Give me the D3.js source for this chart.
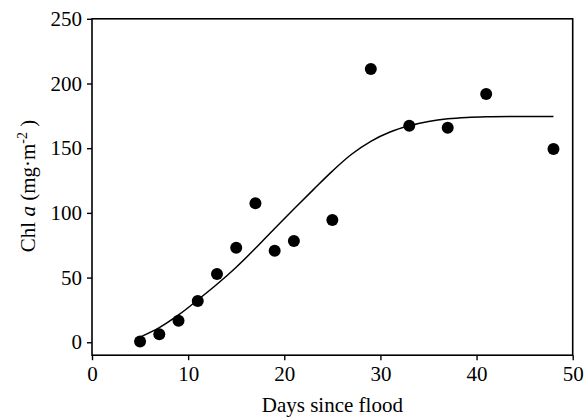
<!DOCTYPE html>
<html>
<head>
<meta charset="utf-8">
<script src="https://cdn.jsdelivr.net/npm/d3@7"></script>
<style>
  html, body { margin: 0; padding: 0; background: #fff; }
  svg text { font-family: "Liberation Serif", "Times New Roman", serif; fill: #000; }
</style>
</head>
<body>
<svg id="chart" width="585" height="417"></svg>
<script>
// Observed chlorophyll a per sampling day
const days = [5, 7, 9, 11, 13, 15, 17, 19, 21, 25, 29, 33, 37, 41, 48];
const chl = [0.5, 6.2, 16.7, 31.9, 52.8, 73.1, 107.4, 70.8, 78.3, 94.5, 211.2, 167.4, 165.8, 191.9, 149.4];

// Fitted growth curve
const fitDays = [5, 7, 9, 11, 13, 15, 17, 19, 21, 23, 25, 27, 29, 31, 33, 35, 37, 39, 41, 44, 48];
const fitChl = [4, 11.3, 21.1, 32.7, 44.8, 58, 72.6, 88, 103, 117.8, 132.3, 145.3, 155.3, 162.5, 167.3, 170.6, 172.7, 173.8, 174.3, 174.5, 174.5];

// Axis ticks
const xTicks = [0, 10, 20, 30, 40, 50];
const yTicks = [0, 50, 100, 150, 200, 250];

const svg = d3.select("#chart");
const plotLeft = 92, plotRight = 572.7, plotTop = 18.8, plotBottom = 355.2;

const x = d3.scaleLinear().domain([0, 50]).range([plotLeft, plotRight]);
const y = d3.scaleLinear().domain([-10, 250]).range([plotBottom, plotTop]);

// Plot frame
svg.append("rect")
  .attr("x", plotLeft).attr("y", plotTop)
  .attr("width", plotRight - plotLeft).attr("height", plotBottom - plotTop)
  .attr("fill", "none").attr("stroke", "#000").attr("stroke-width", 1.6);

const xAxis = svg.append("g")
  .attr("transform", `translate(0,${plotBottom})`)
  .call(d3.axisBottom(x).tickValues(xTicks).tickFormat(d3.format("d"))
    .tickSize(5).tickSizeOuter(0).tickPadding(6));
xAxis.select(".domain").remove();
xAxis.selectAll(".tick line").attr("stroke", "#000").attr("stroke-width", 1.4);
xAxis.selectAll(".tick text").attr("font-size", 21).attr("font-family", "Liberation Serif");

const yAxis = svg.append("g")
  .attr("transform", `translate(${plotLeft},0)`)
  .call(d3.axisLeft(y).tickValues(yTicks).tickFormat(d3.format("d"))
    .tickSize(5).tickSizeOuter(0).tickPadding(5));
yAxis.select(".domain").remove();
yAxis.selectAll(".tick line").attr("stroke", "#000").attr("stroke-width", 1.4);
yAxis.selectAll(".tick text").attr("font-size", 21).attr("font-family", "Liberation Serif");

// Fitted curve
const fit = fitDays.map((d, i) => [d, fitChl[i]]);
svg.append("path")
  .datum(fit)
  .attr("fill", "none")
  .attr("stroke", "#000")
  .attr("stroke-width", 1.5)
  .attr("d", d3.line().x(d => x(d[0])).y(d => y(d[1])).curve(d3.curveCatmullRom.alpha(0.5)));

// Observations
svg.append("g").selectAll("circle")
  .data(days.map((d, i) => [d, chl[i]]))
  .join("circle")
  .attr("cx", d => x(d[0]))
  .attr("cy", d => y(d[1]))
  .attr("r", 6)
  .attr("fill", "#000");

// Axis titles
svg.append("text")
  .attr("x", (plotLeft + plotRight) / 2)
  .attr("y", 412)
  .attr("text-anchor", "middle")
  .attr("font-size", 21)
  .text("Days since flood");

const yl = svg.append("text")
  .attr("transform", `translate(35,186) rotate(-90)`)
  .attr("text-anchor", "middle")
  .attr("font-size", 21);
yl.append("tspan").text("Chl ");
yl.append("tspan").attr("font-style", "italic").text("a");
yl.append("tspan").text(" (mg\u00B7m");
yl.append("tspan").attr("font-size", 14).attr("dy", -8).text("-2");
yl.append("tspan").attr("dy", 8).text(" )");
</script>
</body>
</html>
